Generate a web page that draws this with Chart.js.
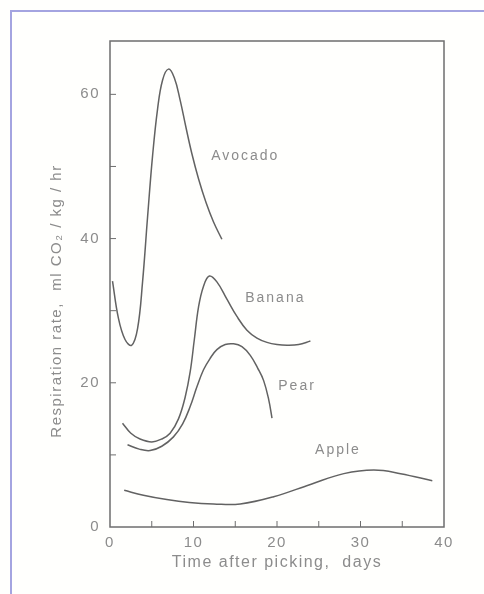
<!DOCTYPE html>
<html>
<head>
<meta charset="utf-8">
<script src="https://cdn.jsdelivr.net/npm/chart.js@4"></script>
<style>
  body { margin: 0; background: #fff; }
  #wrap { position: relative; width: 484px; height: 594px; overflow: hidden; background: #fffffd; }
  #frame { position: absolute; left: 10px; top: 10px; width: 490px; height: 600px;
           border-left: 2px solid #a4a4e0; border-top: 2px solid #a4a4e0; }
  canvas { position: absolute; left: 0; top: 0; }
</style>
</head>
<body>
<div id="wrap">
  <div id="frame"></div>
  <canvas id="chart" width="484" height="594"></canvas>
</div>
<script>
// values (days after picking, ml CO2/kg/hr)
const avocadoDays = [0.3, 1.0, 1.8, 2.6, 3.3, 3.9, 4.5, 5.1, 5.7, 6.3, 7.0, 7.7, 8.4, 9.1, 9.8, 10.6, 11.5, 12.4, 13.4];
const avocadoRate = [34.1, 29.0, 26.0, 25.2, 27.5, 34.0, 43.0, 51.5, 58.0, 62.0, 63.5, 62.3, 59.2, 55.4, 51.8, 48.3, 45.0, 42.3, 39.9];

const bananaDays = [1.5, 2.5, 3.6, 5.0, 6.2, 7.2, 8.2, 9.0, 9.6, 10.1, 10.6, 11.2, 11.9, 12.8, 14.0, 15.2, 16.4, 17.6, 18.8, 20.0, 21.2, 22.6, 24.0];
const bananaRate = [14.4, 13.0, 12.2, 11.8, 12.2, 13.0, 15.0, 18.0, 21.5, 26.0, 30.5, 33.4, 34.8, 34.0, 31.6, 29.2, 27.3, 26.2, 25.6, 25.3, 25.2, 25.3, 25.8];

const pearDays = [2.1, 3.5, 4.8, 6.2, 7.6, 8.7, 9.6, 10.4, 11.2, 12.0, 12.8, 13.8, 14.8, 15.8, 16.8, 17.7, 18.4, 19.0, 19.4];
const pearRate = [11.4, 10.8, 10.6, 11.2, 12.5, 14.3, 16.7, 19.4, 21.8, 23.4, 24.6, 25.3, 25.4, 25.0, 23.8, 22.0, 20.3, 17.7, 15.1];

const appleDays = [1.7, 4.0, 6.8, 9.5, 12.4, 15.6, 19.6, 24.0, 28.0, 31.6, 34.8, 38.6];
const appleRate = [5.1, 4.4, 3.8, 3.4, 3.2, 3.2, 4.2, 5.9, 7.4, 7.9, 7.4, 6.4];

const fruitNames = ['Avocado', 'Banana', 'Pear', 'Apple'];
// where each name sits, in data units
const nameDays = [16.2, 19.8, 22.4, 27.3];
const nameRates = [51.5, 31.7, 19.6, 10.6];

const xTicks = [0, 10, 20, 30, 40];
const xMinorTicks = [5, 15, 25, 35];
const yTicks = [0, 20, 40, 60];
const yMinorTicks = [10, 30, 50];

const lineColor = '#626262';
const textColor = '#8c8c8c';
const fontFamily = '"Liberation Sans", Arial, sans-serif';

function toPoints(xs, ys) {
  return xs.map((x, i) => ({ x, y: ys[i] }));
}

const series = [
  toPoints(avocadoDays, avocadoRate),
  toPoints(bananaDays, bananaRate),
  toPoints(pearDays, pearRate),
  toPoints(appleDays, appleRate)
];

// box around the plot, inward ticks and curve names
const framePlugin = {
  id: 'framePlugin',
  beforeDraw(chart) {
    chart.ctx.letterSpacing = '1.5px';
  },
  afterDatasetsDraw(chart) {
    const { ctx, chartArea: a, scales: { x, y } } = chart;
    ctx.save();
    ctx.strokeStyle = '#6e6e6e';
    ctx.lineWidth = 1.5;
    ctx.strokeRect(a.left, a.top, a.right - a.left, a.bottom - a.top);

    ctx.lineWidth = 1;
    ctx.beginPath();
    xTicks.slice(1, -1).concat(xMinorTicks).forEach(v => {
      const px = x.getPixelForValue(v);
      ctx.moveTo(px, a.bottom);
      ctx.lineTo(px, a.bottom - 6);
    });
    yTicks.slice(1).concat(yMinorTicks).forEach(v => {
      const py = y.getPixelForValue(v);
      ctx.moveTo(a.left, py);
      ctx.lineTo(a.left + 6, py);
    });
    ctx.stroke();

    ctx.fillStyle = textColor;
    ctx.font = '14px ' + fontFamily;
    ctx.letterSpacing = '2px';
    ctx.textAlign = 'center';
    ctx.textBaseline = 'middle';
    fruitNames.forEach((name, i) => {
      ctx.fillText(name, x.getPixelForValue(nameDays[i]), y.getPixelForValue(nameRates[i]));
    });
    ctx.restore();
  }
};

new Chart(document.getElementById('chart'), {
  type: 'scatter',
  data: {
    datasets: series.map((pts, i) => ({
      label: fruitNames[i],
      data: pts,
      showLine: true,
      borderColor: lineColor,
      borderWidth: 1.5,
      pointRadius: 0,
      tension: 0.4,
      fill: false
    }))
  },
  options: {
    responsive: false,
    animation: false,
    layout: { padding: { left: 0, top: 41, right: 40, bottom: 0 } },
    plugins: {
      legend: { display: false },
      tooltip: { enabled: false }
    },
    scales: {
      x: {
        type: 'linear',
        min: 0,
        max: 40,
        afterFit: s => { s.height = 67; },
        afterBuildTicks: s => { s.ticks = xTicks.map(v => ({ value: v })); },
        grid: { display: false, drawTicks: false },
        border: { display: false },
        ticks: {
          padding: 7,
          color: textColor,
          font: { family: fontFamily, size: 15 }
        },
        title: {
          display: true,
          text: 'Time after picking,  days',
          color: textColor,
          font: { family: fontFamily, size: 16 },
          padding: { top: 0, bottom: 22 }
        }
      },
      y: {
        type: 'linear',
        min: 0,
        max: 67.4,
        afterFit: s => { s.width = 110; },
        afterBuildTicks: s => { s.ticks = yTicks.map(v => ({ value: v })); },
        grid: { display: false, drawTicks: false },
        border: { display: false },
        ticks: {
          padding: 10,
          color: textColor,
          font: { family: fontFamily, size: 15 }
        },
        title: {
          display: true,
          text: 'Respiration rate,  ml CO\u2082 / kg / hr      ',
          color: textColor,
          font: { family: fontFamily, size: 15 },
          padding: { top: 48, bottom: 0 }
        }
      }
    }
  },
  plugins: [framePlugin]
});
</script>
</body>
</html>
